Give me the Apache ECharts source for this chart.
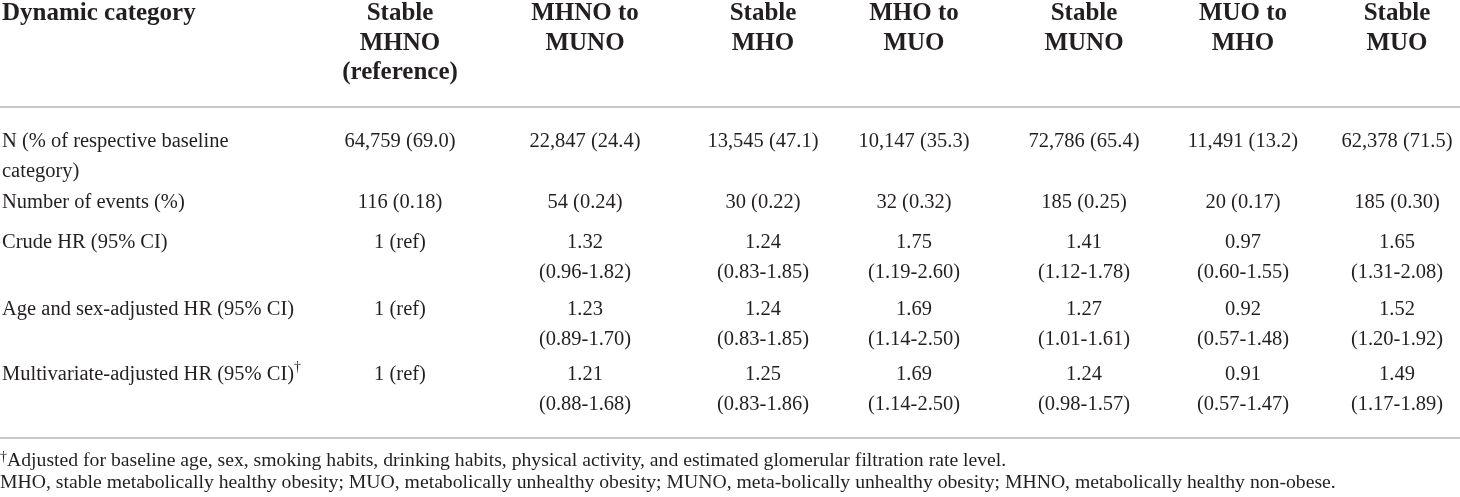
<!DOCTYPE html>
<html>
<head>
<meta charset="utf-8">
<script src="https://cdn.jsdelivr.net/npm/echarts@6/dist/echarts.min.js"></script>
<style>
  html, body { margin: 0; padding: 0; background: #fff; }
  #chart { width: 1460px; height: 497px; }
</style>
</head>
<body>
<div id="chart"></div>
<script>
// table content
const cornerLabel = 'Dynamic category'
const categories = ['Stable\nMHNO\n(reference)', 'MHNO to\nMUNO', 'Stable\nMHO', 'MHO to\nMUO',
  'Stable\nMUNO', 'MUO to\nMHO', 'Stable\nMUO']
const rowLabels = ['N (% of respective baseline\ncategory)', 'Number of events (%)', 'Crude HR (95% CI)',
  'Age and sex-adjusted HR (95% CI)', 'Multivariate-adjusted HR (95% CI){sup|†}']

const nCount = ['64,759 (69.0)', '22,847 (24.4)', '13,545 (47.1)', '10,147 (35.3)', '72,786 (65.4)', '11,491 (13.2)', '62,378 (71.5)']
const events = ['116 (0.18)', '54 (0.24)', '30 (0.22)', '32 (0.32)', '185 (0.25)', '20 (0.17)', '185 (0.30)']
const crudeHR = [1, 1.32, 1.24, 1.75, 1.41, 0.97, 1.65]
const crudeCI = [null, '0.96-1.82', '0.83-1.85', '1.19-2.60', '1.12-1.78', '0.60-1.55', '1.31-2.08']
const ageHR = [1, 1.23, 1.24, 1.69, 1.27, 0.92, 1.52]
const ageCI = [null, '0.89-1.70', '0.83-1.85', '1.14-2.50', '1.01-1.61', '0.57-1.48', '1.20-1.92']
const multiHR = [1, 1.21, 1.25, 1.69, 1.24, 0.91, 1.49]
const multiCI = [null, '0.88-1.68', '0.83-1.86', '1.14-2.50', '0.98-1.57', '0.57-1.47', '1.17-1.89']

const footnotes = [
  '{sup|†}Adjusted for baseline age, sex, smoking habits, drinking habits, physical activity, and estimated glomerular filtration rate level.',
  'MHO, stable metabolically healthy obesity; MUO, metabolically unhealthy obesity; MUNO, meta-bolically unhealthy obesity; MHNO, metabolically healthy non-obese.'
]

// layout (axis units = pixels)
const colX = [2, 400, 585, 763, 914, 1084, 1243, 1397]
const headerY = 14
const rowY = [142, 203, 243, 310, 375]
const ruleY = [107, 438]
const noteX = 0
const noteY = [461, 483]
const LH = 29.5

const fmtHR = (hr, ci) => ci ? hr.toFixed(2) + '\n(' + ci + ')' : hr + ' (ref)'

const rows = [
  nCount,
  events,
  crudeHR.map((v, i) => fmtHR(v, crudeCI[i])),
  ageHR.map((v, i) => fmtHR(v, ageCI[i])),
  multiHR.map((v, i) => fmtHR(v, multiCI[i]))
]

const cells = []
const cellInfo = []
function addCell(x, y, text, kind, align) {
  cells.push([x, y])
  cellInfo.push({ text, kind, align })
}

addCell(colX[0], headerY, cornerLabel, 'head', 'left')
categories.forEach((c, j) => addCell(colX[j + 1], headerY, c, 'head', 'center'))
rowLabels.forEach((r, i) => {
  addCell(colX[0], rowY[i], r, 'body', 'left')
  rows[i].forEach((v, j) => addCell(colX[j + 1], rowY[i], v, 'body', 'center'))
})
footnotes.forEach((f, i) => addCell(noteX, noteY[i], f, 'note', 'left'))

const INK = '#231f20'
const FONT = '"Liberation Serif", "Times New Roman", serif'
const styles = {
  head: { fontSize: 25, fontWeight: 'bold', lineHeight: LH },
  body: { fontSize: 20.5, fontWeight: 'normal', lineHeight: LH },
  note: { fontSize: 19.7, fontWeight: 'normal', lineHeight: 22 }
}

const chart = echarts.init(document.getElementById('chart'))

chart.setOption({
  animation: false,
  grid: { left: 0, right: 0, top: 0, bottom: 0 },
  xAxis: { type: 'value', min: 0, max: 1460, show: false },
  yAxis: { type: 'value', min: 0, max: 497, inverse: true, show: false },
  series: [
    {
      type: 'custom',
      data: ruleY.map(y => [0, y]),
      renderItem(params, api) {
        const a = api.coord([0, api.value(1)])
        const b = api.coord([1460, api.value(1)])
        return {
          type: 'line',
          shape: { x1: a[0], y1: a[1], x2: b[0], y2: b[1] },
          style: { stroke: '#c8c8c8', lineWidth: 2 }
        }
      }
    },
    {
      type: 'custom',
      data: cells,
      renderItem(params, api) {
        const info = cellInfo[params.dataIndex]
        const s = styles[info.kind]
        const p = api.coord([api.value(0), api.value(1)])
        return {
          type: 'text',
          x: p[0],
          y: p[1] - s.lineHeight / 2,
          style: {
            text: info.text,
            fill: INK,
            fontFamily: FONT,
            fontSize: s.fontSize,
            fontWeight: s.fontWeight,
            lineHeight: s.lineHeight,
            align: info.align,
            verticalAlign: 'top',
            rich: {
              sup: { fontSize: 14, fontFamily: FONT, fill: INK, verticalAlign: 'top', lineHeight: s.lineHeight - 8 }
            }
          }
        }
      }
    }
  ]
})
</script>
</body>
</html>
